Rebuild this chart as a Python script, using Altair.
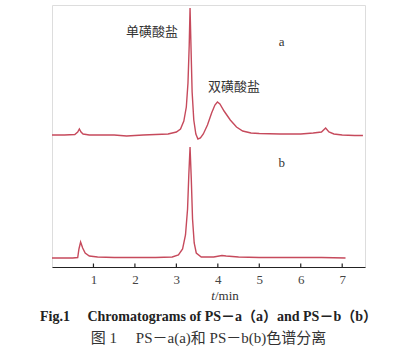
import altair as alt
import pandas as pd

# Trace a (PS-a), intensity in arbitrary units (offset trace)
a_t = [0.0, 0.3, 0.55, 0.62, 0.66, 0.70, 0.75, 0.9, 1.5, 1.8, 2.2, 2.5, 2.8, 3.0, 3.1, 3.18, 3.24,
       3.28, 3.31, 3.33, 3.35, 3.38, 3.42, 3.47, 3.52, 3.58, 3.65, 3.75, 3.85, 3.93, 3.99, 4.05,
       4.15, 4.3, 4.45, 4.6, 4.8, 5.0, 5.5, 6.0, 6.3, 6.5, 6.6, 6.68, 6.8, 7.0, 7.3, 7.5]
a_y = [132, 132, 132.5, 135, 138, 135, 133, 132, 132, 131, 132, 132.5, 133, 135, 138, 146, 160,
       184, 222, 259, 225, 175, 147, 133, 128, 129, 133, 142, 154, 162, 165, 163,
       156, 147, 140, 136, 134, 133.5, 133, 133, 134, 135, 139, 135, 133, 132, 131.5, 131.5]

# Trace b (PS-b)
b_t = [0.0, 0.5, 0.62, 0.65, 0.69, 0.74, 0.8, 0.9, 1.1, 1.5, 2.0, 2.5, 2.9, 3.05, 3.15, 3.22,
       3.27, 3.30, 3.33, 3.36, 3.39, 3.43, 3.48, 3.6, 3.9, 4.1, 4.2, 4.5, 5.0, 6.0, 6.5, 7.08]
b_y = [9, 9, 9.5, 18, 25, 19, 14, 11, 10, 9.5, 9.5, 9.5, 10, 12, 18, 32,
       58, 92, 120, 88, 48, 24, 14, 10, 10, 11.5, 11, 10, 9.5, 9.5, 9.5, 9]

tick_vals = [1, 2, 3, 4, 5, 6, 7]

ann_text = ["单磺酸盐", "双磺酸盐", "a", "b"]
ann_t = [2.41, 4.39, 5.54, 5.54]
ann_y = [235, 180, 225, 104]

df_a = pd.DataFrame({"t": a_t, "y": a_y, "s": "a"})
df_b = pd.DataFrame({"t": b_t, "y": b_y, "s": "b"})
df = pd.concat([df_a, df_b])

xs = alt.Scale(domain=[0, 7.55], nice=False, zero=False)
ys = alt.Scale(domain=[0, 262], nice=False, zero=False)

COLOR = "#c64a5c"
FONT = "Liberation Serif, Noto Sans CJK SC"
NB = "\u00a0"

lines = alt.Chart(df).mark_line(color=COLOR, strokeWidth=1.4, clip=False).encode(
    x=alt.X("t:Q", scale=xs, axis=alt.Axis(values=tick_vals, title=None, grid=False,
                                           domainColor="#222", domainWidth=1.2, tickSize=0,
                                           labelPadding=6, labelFont=FONT, labelFontSize=13,
                                           labelColor="#444", format="d")),
    y=alt.Y("y:Q", scale=ys, axis=None),
    detail="s:N",
)

ticks = alt.Chart(pd.DataFrame({"t": tick_vals, "y0": [0] * 7, "y1": [3.5] * 7})).mark_rule(
    color="#222", strokeWidth=1.2).encode(
    x=alt.X("t:Q", scale=xs), y=alt.Y("y0:Q", scale=ys), y2="y1:Q")

ann = alt.Chart(pd.DataFrame({"txt": ann_text, "t": ann_t, "y": ann_y})).mark_text(
    font=FONT, fontSize=13, color="#333").encode(
    x=alt.X("t:Q", scale=xs), y=alt.Y("y:Q", scale=ys), text="txt:N")

xt_italic = alt.Chart(pd.DataFrame({"txt": ["t"], "t": [3.93], "y": [-29]})).mark_text(
    font="Liberation Serif", fontSize=13, fontStyle="italic", color="#333", align="right").encode(
    x=alt.X("t:Q", scale=xs), y=alt.Y("y:Q", scale=ys), text="txt:N")
xt_rest = alt.Chart(pd.DataFrame({"txt": ["/min"], "t": [3.93], "y": [-29]})).mark_text(
    font="Liberation Serif", fontSize=13, color="#333", align="left").encode(
    x=alt.X("t:Q", scale=xs), y=alt.Y("y:Q", scale=ys), text="txt:N")

title_text = "Fig.1" + NB * 5 + "Chromatograms of PS－a（a）and PS－b（b）"
sub_text = "图 1" + NB * 5 + "PS－a(a)和 PS－b(b)色谱分离"

chart = alt.layer(lines, ticks, ann, xt_italic, xt_rest).properties(
    width=313, height=262,
    autosize=alt.AutoSizeParams(type="none"),
    padding={"left": 52, "top": 5, "right": 43, "bottom": 84},
    title=alt.TitleParams(
        text=title_text,
        subtitle=sub_text,
        orient="bottom", anchor="middle", offset=7,
        font=FONT, fontSize=14, fontWeight="bold", color="#222",
        subtitleFont=FONT, subtitleFontSize=15, subtitleColor="#333", subtitlePadding=7,
    ),
).configure_view(stroke=None).configure(background="white")

chart.save("out.html", embed_options={"renderer": "svg", "actions": False})
